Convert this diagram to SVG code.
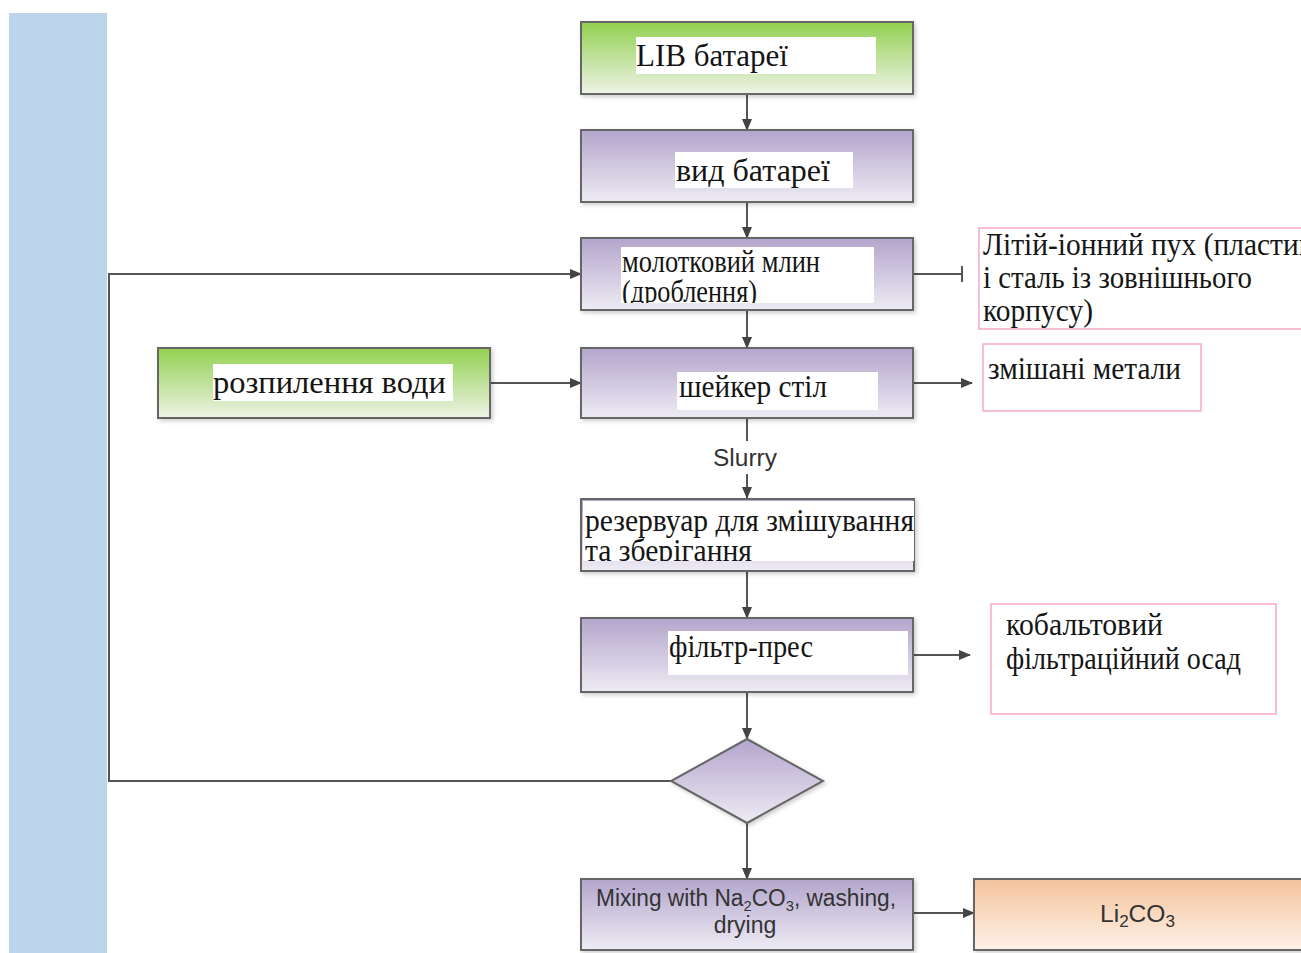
<svg xmlns="http://www.w3.org/2000/svg" width="1301" height="953" viewBox="0 0 1301 953">
<defs>
<linearGradient id="gGreen" x1="0" y1="0" x2="0" y2="1"><stop offset="0" stop-color="#92d050"/><stop offset="1" stop-color="#eef3e6"/></linearGradient>
<linearGradient id="gPurple" x1="0" y1="0" x2="0" y2="1"><stop offset="0" stop-color="#b3a5cc"/><stop offset="1" stop-color="#eeebf4"/></linearGradient>
<linearGradient id="gOrange" x1="0" y1="0" x2="0" y2="1"><stop offset="0" stop-color="#f5c39c"/><stop offset="1" stop-color="#fdf1e8"/></linearGradient>
<filter id="sh" x="-5%" y="-10%" width="115%" height="130%"><feDropShadow dx="2" dy="2" stdDeviation="2" flood-color="#000" flood-opacity="0.2"/></filter>
<marker id="arr" viewBox="0 0 12 10" refX="11" refY="5" markerWidth="12" markerHeight="10" markerUnits="userSpaceOnUse" orient="auto"><path d="M0,0 L12,5 L0,10 z" fill="#444"/></marker>
<clipPath id="c3"><rect x="621" y="247" width="253" height="56"/></clipPath>
<clipPath id="c5"><rect x="583" y="502" width="331" height="59"/></clipPath>
<clipPath id="cA"><rect x="979" y="228" width="322" height="101"/></clipPath>
</defs>
<style>
.box{stroke:#666;stroke-width:2;filter:url(#sh)}
.pink{fill:#fff;stroke:#f6a9c8;stroke-width:1.5}
.wb{fill:#fff}
.t{font-family:"Liberation Serif","Times New Roman",serif;fill:#151515;font-size:31px}
.s{font-family:"Liberation Sans",Arial,sans-serif;fill:#333;font-size:23px}
.ln{fill:none;stroke:#555;stroke-width:2}
</style>
<rect x="9" y="13" width="98" height="940" fill="#bdd5ec"/>
<g id="connectors">
<path class="ln" d="M747,94 V130" marker-end="url(#arr)"/>
<path class="ln" d="M747,202 V238" marker-end="url(#arr)"/>
<path class="ln" d="M913,274 H962 M962,266 V282"/>
<path class="ln" d="M747,310 V348" marker-end="url(#arr)"/>
<path class="ln" d="M490,383 H581" marker-end="url(#arr)"/>
<path class="ln" d="M913,383 H972" marker-end="url(#arr)"/>
<path class="ln" d="M747,418 V441"/>
<path class="ln" d="M747,474 V498" marker-end="url(#arr)"/>
<path class="ln" d="M747,571 V618" marker-end="url(#arr)"/>
<path class="ln" d="M913,655 H970" marker-end="url(#arr)"/>
<path class="ln" d="M747,692 V739" marker-end="url(#arr)"/>
<path class="ln" d="M671,781 H109 V274 H581" marker-end="url(#arr)"/>
<path class="ln" d="M747,823 V879" marker-end="url(#arr)"/>
<path class="ln" d="M913,913 H974" marker-end="url(#arr)"/>
<text x="713" y="466" font-family="Liberation Sans, Arial, sans-serif" font-size="23" fill="#333" textLength="64" lengthAdjust="spacingAndGlyphs">Slurry</text>
</g>
<g id="n1">
<rect class="box" x="581" y="22" width="332" height="72" fill="url(#gGreen)"/>
<rect class="wb" x="636" y="37" width="240" height="37"/>
<text class="t" x="636" y="66" textLength="152" lengthAdjust="spacingAndGlyphs">LIB батареї</text>
</g>
<g id="n2">
<rect class="box" x="581" y="130" width="332" height="72" fill="url(#gPurple)"/>
<rect class="wb" x="675" y="152" width="178" height="36"/>
<text class="t" x="676" y="181" textLength="154" lengthAdjust="spacingAndGlyphs">вид батареї</text>
</g>
<g id="n3">
<rect class="box" x="581" y="238" width="332" height="72" fill="url(#gPurple)"/>
<rect class="wb" x="621" y="247" width="253" height="56"/>
<g clip-path="url(#c3)">
<text class="t" x="622" y="272" font-size="28" textLength="198" lengthAdjust="spacingAndGlyphs">молотковий млин</text>
<text class="t" x="622" y="302" font-size="28" textLength="135" lengthAdjust="spacingAndGlyphs">(дроблення)</text>
</g>
</g>
<g id="n4">
<rect class="box" x="581" y="348" width="332" height="70" fill="url(#gPurple)"/>
<rect class="wb" x="677" y="372" width="201" height="38"/>
<text class="t" x="679" y="397" textLength="148" lengthAdjust="spacingAndGlyphs">шейкер стіл</text>
</g>
<g id="nWater">
<rect class="box" x="158" y="348" width="332" height="70" fill="url(#gGreen)"/>
<rect class="wb" x="213" y="364" width="240" height="37"/>
<text class="t" x="213" y="393" textLength="233" lengthAdjust="spacingAndGlyphs">розпилення води</text>
</g>
<g id="n5">
<rect class="box" x="581" y="499" width="333" height="72" fill="url(#gPurple)"/>
<rect class="wb" x="583" y="501" width="331" height="60"/>
<g clip-path="url(#c5)">
<text class="t" x="585" y="531" font-size="33" textLength="329" lengthAdjust="spacingAndGlyphs">резервуар для змішування</text>
<text class="t" x="585" y="561" font-size="33" textLength="167" lengthAdjust="spacingAndGlyphs">та зберігання</text>
</g>
</g>
<g id="n6">
<rect class="box" x="581" y="618" width="332" height="74" fill="url(#gPurple)"/>
<rect class="wb" x="668" y="631" width="240" height="44"/>
<text class="t" x="669" y="657" textLength="144" lengthAdjust="spacingAndGlyphs">фільтр-прес</text>
</g>
<g id="nDiamond">
<polygon class="box" points="747,739 823,781 747,823 671,781" fill="url(#gPurple)" stroke-width="1.5"/>
</g>
<g id="n7">
<rect class="box" x="581" y="879" width="332" height="71" fill="url(#gPurple)"/>
<text class="s" x="596" y="906" textLength="300" lengthAdjust="spacingAndGlyphs">Mixing with Na<tspan font-size="15" dy="5">2</tspan><tspan dy="-5">CO</tspan><tspan font-size="15" dy="5">3</tspan><tspan dy="-5">, washing,</tspan></text>
<text class="s" x="745" y="933" text-anchor="middle">drying</text>
</g>
<g id="nLi">
<rect class="box" x="974" y="879" width="340" height="71" fill="url(#gOrange)"/>
<text class="s" x="1100" y="922" font-size="24" textLength="75" lengthAdjust="spacingAndGlyphs">Li<tspan font-size="16" dy="5">2</tspan><tspan dy="-5">CO</tspan><tspan font-size="16" dy="5">3</tspan></text>
</g>
<g id="nA">
<rect class="pink" x="979" y="228" width="330" height="101"/>
<g clip-path="url(#cA)">
<text class="t" x="983" y="255" font-size="28" textLength="330" lengthAdjust="spacingAndGlyphs">Літій-іонний пух (пластик</text>
<text class="t" x="983" y="288" font-size="28" textLength="269" lengthAdjust="spacingAndGlyphs">і сталь із зовнішнього</text>
<text class="t" x="983" y="321" font-size="28" textLength="110" lengthAdjust="spacingAndGlyphs">корпусу)</text>
</g>
</g>
<g id="nB">
<rect class="pink" x="983" y="344" width="218" height="67"/>
<text class="t" x="988" y="379" font-size="28" textLength="193" lengthAdjust="spacingAndGlyphs">змішані метали</text>
</g>
<g id="nC">
<rect class="pink" x="991" y="604" width="285" height="110"/>
<text class="t" x="1006" y="635" font-size="27" textLength="157" lengthAdjust="spacingAndGlyphs">кобальтовий</text>
<text class="t" x="1006" y="669" font-size="27" textLength="235" lengthAdjust="spacingAndGlyphs">фільтраційний осад</text>
</g>
</svg>
